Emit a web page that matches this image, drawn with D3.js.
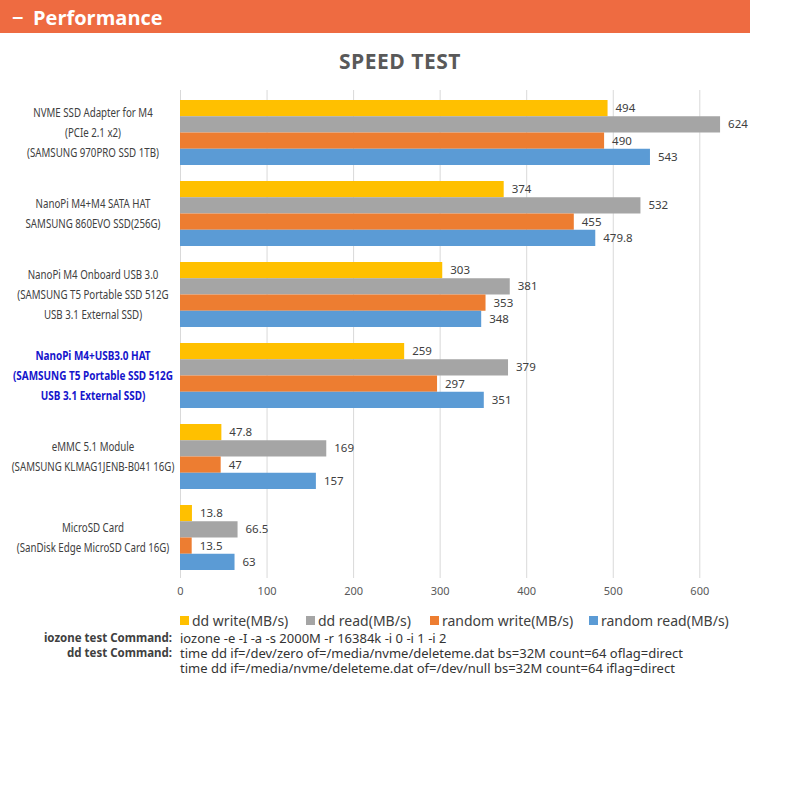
<!DOCTYPE html>
<html><head><meta charset="utf-8">
<script src="https://cdn.jsdelivr.net/npm/d3@7"></script>
<style>body{margin:0;background:#fff}svg{display:block}</style>
</head><body>
<svg id="c" width="800" height="800"></svg>
<script>
const categories = [
  ["NVME SSD Adapter for M4","(PCIe 2.1 x2)","(SAMSUNG 970PRO SSD 1TB)"],
  ["NanoPi M4+M4 SATA HAT","SAMSUNG 860EVO SSD(256G)"],
  ["NanoPi M4 Onboard USB 3.0","(SAMSUNG T5 Portable SSD 512G","USB 3.1 External SSD)"],
  ["NanoPi M4+USB3.0 HAT","(SAMSUNG T5 Portable SSD 512G","USB 3.1 External SSD)"],
  ["eMMC 5.1 Module","(SAMSUNG KLMAG1JENB-B041 16G)"],
  ["MicroSD Card","(SanDisk Edge MicroSD Card 16G)"]
];
const highlighted = [false,false,false,true,false,false];
const seriesNames = ["dd write(MB/s)","dd read(MB/s)","random write(MB/s)","random read(MB/s)"];
const ddWrite = [494, 374, 303, 259, 47.8, 13.8];
const ddRead = [624, 532, 381, 379, 169, 66.5];
const randWrite = [490, 455, 353, 297, 47, 13.5];
const randRead = [543, 479.8, 348, 351, 157, 63];
const xTicks = [0,100,200,300,400,500,600];
const commandLabels = ["iozone test Command:","dd test Command:"];
const commandLines = [
  ["iozone -e -I -a -s 2000M -r 16384k -i 0 -i 1 -i 2"],
  ["time dd if=/dev/zero of=/media/nvme/deleteme.dat bs=32M count=64 oflag=direct",
   "time dd if=/media/nvme/deleteme.dat of=/dev/null bs=32M count=64 iflag=direct"]
];
const colors = ["#FFC000","#A5A5A5","#ED7D31","#5B9BD5"];
const series = [ddWrite, ddRead, randWrite, randRead];

const svg = d3.select("#c");
const sans = "'Noto Sans', 'Open Sans', sans-serif";

// header
svg.append("rect").attr("x",0).attr("y",0).attr("width",750).attr("height",33).attr("fill","#EE6B41");
svg.append("text").attr("x",12).attr("y",25).attr("fill","#fff")
  .attr("font-family","'Open Sans', sans-serif").attr("font-weight","bold").attr("font-size",20)
  .text("−");
svg.append("text").attr("x",33).attr("y",25).attr("fill","#fff")
  .attr("font-family","'Open Sans', sans-serif").attr("font-weight","bold").attr("font-size",20)
  .text("Performance");

// title
svg.append("text").attr("x",400).attr("y",69).attr("text-anchor","middle").attr("fill","#595959")
  .attr("font-family","'Open Sans', sans-serif").attr("font-weight","bold").attr("font-size",21)
  .attr("letter-spacing",0.5)
  .text("SPEED TEST");

const x = d3.scaleLinear().domain([0,600]).range([180, 699.3]);
const y = d3.scaleBand().domain(d3.range(categories.length)).range([92, 578]).paddingInner(16/81).paddingOuter(8/81);
const yInner = d3.scaleBand().domain(d3.range(4)).range([0, y.bandwidth()]);

// gridlines via axis
const gAxis = svg.append("g").attr("transform","translate(0,578)")
  .call(d3.axisBottom(x).tickValues(xTicks).tickSize(-488).tickPadding(9));
gAxis.select(".domain").remove();
gAxis.selectAll(".tick line").attr("stroke","#D9D9D9").attr("stroke-width",1);
gAxis.selectAll(".tick text").attr("fill","#595959").attr("font-size",11).attr("font-family",sans);

// bars
const groups = svg.append("g").selectAll("g").data(categories).join("g")
  .attr("transform",(d,i)=>`translate(0,${y(i)})`);
series.forEach((vals, si) => {
  groups.append("rect")
    .attr("x", x(0))
    .attr("y", yInner(si))
    .attr("width", (d,i)=> x(vals[i]) - x(0))
    .attr("height", yInner.bandwidth())
    .attr("fill", colors[si]);
  groups.append("text")
    .attr("x", (d,i)=> x(vals[i]) + 8)
    .attr("y", yInner(si) + yInner.bandwidth()/2)
    .attr("dy","0.35em")
    .attr("fill","#404040").attr("font-size",11.5).attr("font-family",sans)
    .text((d,i)=> vals[i]);
});

// category labels (condensed via horizontal scale)
categories.forEach((lines, i) => {
  const cy = y(i) + y.bandwidth()/2;
  const sx = highlighted[i] ? 0.83 : 0.81;
  lines.forEach((ln, li) => {
    svg.append("text")
      .attr("transform", `translate(93,${cy + (li - (lines.length-1)/2)*20}) scale(${sx},1)`)
      .attr("dy","0.35em")
      .attr("text-anchor","middle")
      .attr("fill", highlighted[i] ? "#1515CC" : "#404040")
      .attr("font-weight", highlighted[i] ? "bold" : "normal")
      .attr("font-size", 12)
      .attr("font-family", sans)
      .text(ln);
  });
});

// legend
const legX = [180, 306, 430, 589];
seriesNames.forEach((n, i) => {
  svg.append("rect").attr("x",legX[i]).attr("y",616).attr("width",9).attr("height",9).attr("fill",colors[i]);
  svg.append("text").attr("x",legX[i]+12).attr("y",621).attr("dy","0.35em")
    .attr("fill","#404040").attr("font-size",14).attr("font-family",sans).text(n);
});

// commands
let ly = 638;
commandLabels.forEach((lab, i) => {
  svg.append("text").attr("transform",`translate(172,${ly}) scale(0.92,1)`).attr("dy","0.35em").attr("text-anchor","end")
    .attr("fill","#404040").attr("font-weight","bold").attr("font-size",12.5).attr("font-family",sans).text(lab);
  commandLines[i].forEach(cmd => {
    svg.append("text").attr("x",180).attr("y",ly).attr("dy","0.35em")
      .attr("fill","#333").attr("font-size",13).attr("font-family",sans).text(cmd);
    ly += 15;
  });
});
</script>
</body></html>
